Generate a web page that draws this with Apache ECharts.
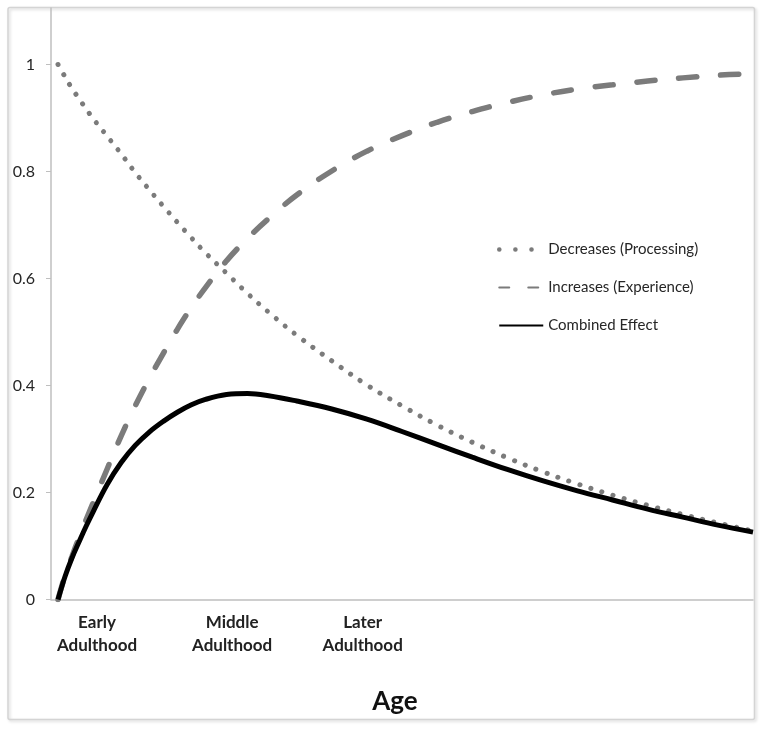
<!DOCTYPE html>
<html>
<head>
<meta charset="utf-8">
<script src="https://cdn.jsdelivr.net/npm/echarts@6/dist/echarts.min.js"></script>
<style>
html,body{margin:0;padding:0;background:#fff;}
#chart{width:764px;height:729px;}
</style>
</head>
<body>
<div id="chart"></div>
<script>
// Position along the age axis (0-100 scale)
var ageX = [1, 2, 3, 4, 5, 6, 8, 10, 12, 14, 16, 18, 20, 22, 25, 28, 31, 35, 40, 45, 50, 55, 60, 65, 70, 75, 80, 85, 90, 95, 100];
var decreases = [1.000, 0.977, 0.955, 0.936, 0.917, 0.899, 0.866, 0.833, 0.798, 0.766, 0.735, 0.705, 0.676, 0.648, 0.610, 0.572, 0.537, 0.494, 0.446, 0.401, 0.362, 0.326, 0.294, 0.265, 0.239, 0.216, 0.195, 0.176, 0.159, 0.143, 0.128];
var increases = [0.000, 0.045, 0.081, 0.116, 0.149, 0.181, 0.244, 0.306, 0.362, 0.413, 0.460, 0.505, 0.546, 0.583, 0.633, 0.675, 0.712, 0.756, 0.801, 0.838, 0.867, 0.892, 0.912, 0.929, 0.943, 0.954, 0.962, 0.969, 0.975, 0.980, 0.983];
var combined = [0.000, 0.043, 0.078, 0.108, 0.137, 0.164, 0.215, 0.256, 0.288, 0.313, 0.333, 0.350, 0.364, 0.374, 0.383, 0.385, 0.381, 0.371, 0.356, 0.337, 0.314, 0.290, 0.266, 0.243, 0.222, 0.203, 0.186, 0.169, 0.154, 0.139, 0.126];
var seriesNames = ['Decreases (Processing)', 'Increases (Experience)', 'Combined Effect'];
var yTicks = [0, 0.2, 0.4, 0.6, 0.8, 1];
var xLabelPos = [6.55, 25.8, 44.4];
var xLabelText = ['Early\nAdulthood', 'Middle\nAdulthood', 'Later\nAdulthood'];
var xTitle = 'Age';

function pairs(ys) { return ageX.map(function (x, i) { return [x, ys[i]]; }); }

var chart = echarts.init(document.getElementById('chart'), null, {renderer: 'canvas'});
var axisColor = '#bfbfbf';
chart.setOption({
  animation: false,
  backgroundColor: '#ffffff',
  grid: {left: 51, right: 11, top: 8, bottom: 129.5, containLabel: false},
  legend: {
    orient: 'vertical',
    left: 492,
    top: 237,
    itemWidth: 44,
    itemHeight: 14,
    itemGap: 23,
    itemStyle: {opacity: 0},
    textStyle: {fontFamily: 'Lato', fontSize: 15, color: '#262626'},
    data: [
      {name: seriesNames[0], lineStyle: {type: [0.1, 16], cap: 'round', width: 4.5}},
      {name: seriesNames[1], lineStyle: {type: [10, 19], cap: 'round'}},
      {name: seriesNames[2]}
    ]
  },
  xAxis: {
    type: 'value',
    min: 0,
    max: 100,
    splitLine: {show: false},
    axisLine: {show: true, lineStyle: {color: axisColor, width: 1.5}},
    axisTick: {show: false},
    axisLabel: {
      customValues: xLabelPos,
      margin: 12,
      fontFamily: 'Lato',
      fontWeight: 'bold',
      fontSize: 17,
      lineHeight: 23,
      color: '#222222',
      formatter: function (v) {
        for (var i = 0; i < xLabelPos.length; i++) {
          if (Math.abs(v - xLabelPos[i]) < 0.01) return xLabelText[i];
        }
        return '';
      }
    }
  },
  yAxis: {
    type: 'value',
    min: 0,
    max: 1.1056,
    splitLine: {show: false},
    axisLine: {show: true, lineStyle: {color: axisColor, width: 1.5}},
    axisTick: {show: true, customValues: yTicks, length: 5, lineStyle: {color: axisColor}},
    axisLabel: {
      customValues: yTicks,
      margin: 16,
      fontFamily: 'Lato',
      fontSize: 16,
      color: '#262626'
    }
  },
  graphic: [
    {
      type: 'rect',
      shape: {x: 8, y: 7.5, width: 746.5, height: 712, r: 2},
      style: {fill: 'none', stroke: '#d4d4d4', lineWidth: 1.5,
              shadowBlur: 3, shadowColor: 'rgba(0,0,0,0.18)', shadowOffsetX: 1.5, shadowOffsetY: 1.5},
      silent: true,
      z: -1
    },
    {
      type: 'text',
      x: 395,
      y: 702,
      style: {text: xTitle, font: 'bold 26px Lato', fill: '#111111', textAlign: 'center', textVerticalAlign: 'middle'}
    }
  ],
  series: [
    {
      name: seriesNames[0],
      type: 'line',
      data: pairs(decreases),
      smooth: 0.4,
      symbol: 'none',
      lineStyle: {color: '#7b7b7b', width: 5, type: [0.1, 11.5], cap: 'round'},
      itemStyle: {color: '#7b7b7b'}
    },
    {
      name: seriesNames[1],
      type: 'line',
      data: pairs(increases),
      smooth: 0.4,
      symbol: 'none',
      lineStyle: {color: '#7b7b7b', width: 5.5, type: [18, 24], cap: 'round'},
      itemStyle: {color: '#7b7b7b'}
    },
    {
      name: seriesNames[2],
      type: 'line',
      data: pairs(combined),
      smooth: 0.4,
      symbol: 'none',
      lineStyle: {color: '#000000', width: 5},
      itemStyle: {color: '#000000'}
    }
  ]
});
</script>
</body>
</html>
